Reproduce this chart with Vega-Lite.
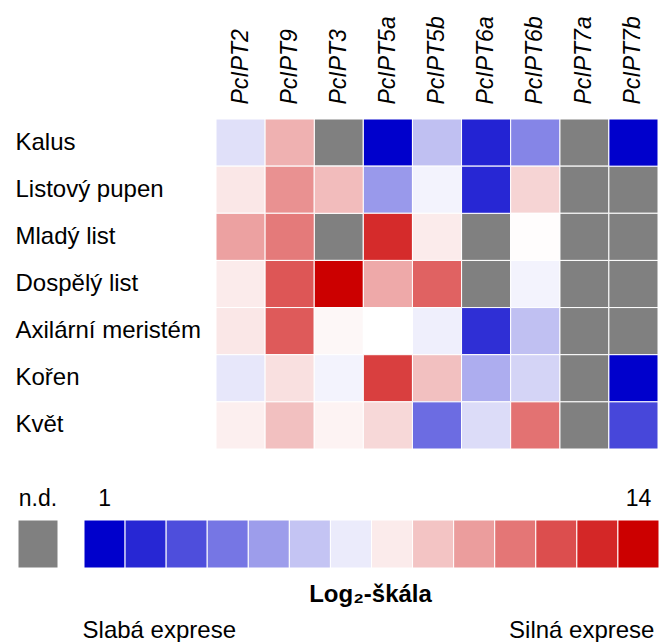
{
  "$schema": "https://vega.github.io/schema/vega-lite/v6.json",
  "background": "white",
  "padding": {"left": 15, "top": 15, "right": 0, "bottom": 0},
  "config": {
    "font": "Liberation Sans",
    "view": {"stroke": null},
    "axis": {"tickSize": 0, "ticks": false, "domain": false, "grid": false, "labelColor": "#000000", "titleColor": "#000000", "labelFontSize": 23, "titleFontSize": 23}
  },
  "datasets": {
    "expression": [
      {"tissue": "Kalus", "gene": "PcIPT2", "value": 6.7},
      {"tissue": "Kalus", "gene": "PcIPT9", "value": 9.5},
      {"tissue": "Kalus", "gene": "PcIPT3", "value": null},
      {"tissue": "Kalus", "gene": "PcIPT5a", "value": 1},
      {"tissue": "Kalus", "gene": "PcIPT5b", "value": 5.9},
      {"tissue": "Kalus", "gene": "PcIPT6a", "value": 1.9},
      {"tissue": "Kalus", "gene": "PcIPT6b", "value": 4.4},
      {"tissue": "Kalus", "gene": "PcIPT7a", "value": null},
      {"tissue": "Kalus", "gene": "PcIPT7b", "value": 1},
      {"tissue": "Listový pupen", "gene": "PcIPT2", "value": 8.1},
      {"tissue": "Listový pupen", "gene": "PcIPT9", "value": 10.3},
      {"tissue": "Listový pupen", "gene": "PcIPT3", "value": 9.2},
      {"tissue": "Listový pupen", "gene": "PcIPT5a", "value": 4.9},
      {"tissue": "Listový pupen", "gene": "PcIPT5b", "value": 7.2},
      {"tissue": "Listový pupen", "gene": "PcIPT6a", "value": 2.0},
      {"tissue": "Listový pupen", "gene": "PcIPT6b", "value": 8.6},
      {"tissue": "Listový pupen", "gene": "PcIPT7a", "value": null},
      {"tissue": "Listový pupen", "gene": "PcIPT7b", "value": null},
      {"tissue": "Mladý list", "gene": "PcIPT2", "value": 9.9},
      {"tissue": "Mladý list", "gene": "PcIPT9", "value": 10.9},
      {"tissue": "Mladý list", "gene": "PcIPT3", "value": null},
      {"tissue": "Mladý list", "gene": "PcIPT5a", "value": 12.9},
      {"tissue": "Mladý list", "gene": "PcIPT5b", "value": 8.0},
      {"tissue": "Mladý list", "gene": "PcIPT6a", "value": null},
      {"tissue": "Mladý list", "gene": "PcIPT6b", "value": 7.55},
      {"tissue": "Mladý list", "gene": "PcIPT7a", "value": null},
      {"tissue": "Mladý list", "gene": "PcIPT7b", "value": null},
      {"tissue": "Dospělý list", "gene": "PcIPT2", "value": 8.0},
      {"tissue": "Dospělý list", "gene": "PcIPT9", "value": 11.8},
      {"tissue": "Dospělý list", "gene": "PcIPT3", "value": 14},
      {"tissue": "Dospělý list", "gene": "PcIPT5a", "value": 9.7},
      {"tissue": "Dospělý list", "gene": "PcIPT5b", "value": 11.5},
      {"tissue": "Dospělý list", "gene": "PcIPT6a", "value": null},
      {"tissue": "Dospělý list", "gene": "PcIPT6b", "value": 7.2},
      {"tissue": "Dospělý list", "gene": "PcIPT7a", "value": null},
      {"tissue": "Dospělý list", "gene": "PcIPT7b", "value": null},
      {"tissue": "Axilární meristém", "gene": "PcIPT2", "value": 8.1},
      {"tissue": "Axilární meristém", "gene": "PcIPT9", "value": 11.7},
      {"tissue": "Axilární meristém", "gene": "PcIPT3", "value": 7.7},
      {"tissue": "Axilární meristém", "gene": "PcIPT5a", "value": 7.5},
      {"tissue": "Axilární meristém", "gene": "PcIPT5b", "value": 7.1},
      {"tissue": "Axilární meristém", "gene": "PcIPT6a", "value": 2.2},
      {"tissue": "Axilární meristém", "gene": "PcIPT6b", "value": 5.9},
      {"tissue": "Axilární meristém", "gene": "PcIPT7a", "value": null},
      {"tissue": "Axilární meristém", "gene": "PcIPT7b", "value": null},
      {"tissue": "Kořen", "gene": "PcIPT2", "value": 6.9},
      {"tissue": "Kořen", "gene": "PcIPT9", "value": 8.3},
      {"tissue": "Kořen", "gene": "PcIPT3", "value": 7.2},
      {"tissue": "Kořen", "gene": "PcIPT5a", "value": 12.4},
      {"tissue": "Kořen", "gene": "PcIPT5b", "value": 9.1},
      {"tissue": "Kořen", "gene": "PcIPT6a", "value": 5.4},
      {"tissue": "Kořen", "gene": "PcIPT6b", "value": 6.4},
      {"tissue": "Kořen", "gene": "PcIPT7a", "value": null},
      {"tissue": "Kořen", "gene": "PcIPT7b", "value": 1},
      {"tissue": "Květ", "gene": "PcIPT2", "value": 7.9},
      {"tissue": "Květ", "gene": "PcIPT9", "value": 9.1},
      {"tissue": "Květ", "gene": "PcIPT3", "value": 7.8},
      {"tissue": "Květ", "gene": "PcIPT5a", "value": 8.5},
      {"tissue": "Květ", "gene": "PcIPT5b", "value": 3.75},
      {"tissue": "Květ", "gene": "PcIPT6a", "value": 6.6},
      {"tissue": "Květ", "gene": "PcIPT6b", "value": 11.1},
      {"tissue": "Květ", "gene": "PcIPT7a", "value": null},
      {"tissue": "Květ", "gene": "PcIPT7b", "value": 2.8}
    ],
    "levels": [
      {"level": 1}, {"level": 2}, {"level": 3}, {"level": 4}, {"level": 5}, {"level": 6}, {"level": 7},
      {"level": 8}, {"level": 9}, {"level": 10}, {"level": 11}, {"level": 12}, {"level": 13}, {"level": 14}
    ],
    "missing": [{"label": "n.d."}]
  },
  "align": "none",
  "spacing": 37,
  "vconcat": [
    {
      "spacing": 0,
      "hconcat": [
        {
          "width": 200,
          "height": 330,
          "data": {"name": "expression"},
          "mark": {"type": "rect", "opacity": 0},
          "encoding": {
            "y": {
              "field": "tissue", "type": "nominal",
              "sort": ["Kalus", "Listový pupen", "Mladý list", "Dospělý list", "Axilární meristém", "Kořen", "Květ"],
              "scale": {"paddingInner": 0, "paddingOuter": 0},
              "axis": {"title": null, "labelAlign": "left", "labelPadding": 0, "labelLimit": 260, "labelFontSize": 24}
            }
          }
        },
        {
          "width": 442,
          "height": 330,
          "data": {"name": "expression"},
          "encoding": {
            "x": {
              "field": "gene", "type": "nominal",
              "sort": ["PcIPT2", "PcIPT9", "PcIPT3", "PcIPT5a", "PcIPT5b", "PcIPT6a", "PcIPT6b", "PcIPT7a", "PcIPT7b"],
              "scale": {"paddingInner": 0, "paddingOuter": 0},
              "axis": {"orient": "top", "title": null, "labelAngle": -90, "labelAlign": "left", "labelBaseline": "middle", "labelFontStyle": "italic", "labelPadding": 15}
            },
            "y": {
              "field": "tissue", "type": "nominal",
              "sort": ["Kalus", "Listový pupen", "Mladý list", "Dospělý list", "Axilární meristém", "Kořen", "Květ"],
              "scale": {"paddingInner": 0, "paddingOuter": 0},
              "axis": null
            }
          },
          "layer": [
            {"mark": {"type": "rect", "color": "#808080", "stroke": "#ffffff", "strokeWidth": 1}},
            {
              "transform": [{"filter": "datum.value != null"}],
              "mark": {"type": "rect", "stroke": "#ffffff", "strokeWidth": 1},
              "encoding": {
                "color": {
                  "field": "value", "type": "quantitative",
                  "scale": {"domain": [1, 7.5, 14], "range": ["#0000cc", "#ffffff", "#cc0000"], "interpolate": "rgb"},
                  "legend": null
                }
              }
            }
          ]
        }
      ]
    },
    {
      "align": "none",
      "spacing": 13,
      "vconcat": [
        {
          "spacing": 24,
          "hconcat": [
            {
              "width": 43,
              "height": 48,
              "data": {"name": "missing"},
              "mark": {"type": "rect", "color": "#808080", "stroke": "#ffffff", "strokeWidth": 1},
              "encoding": {
                "x": {
                  "field": "label", "type": "nominal",
                  "scale": {"paddingInner": 0, "paddingOuter": 0.0375, "align": 1},
                  "axis": {"orient": "top", "title": null, "labelAngle": 0, "labelPadding": 15, "labelBaseline": "alphabetic"}
                }
              }
            },
            {
              "width": 575,
              "height": 48,
              "data": {"name": "levels"},
              "mark": {"type": "rect", "stroke": "#ffffff", "strokeWidth": 1},
              "encoding": {
                "x": {
                  "field": "level", "type": "ordinal",
                  "scale": {"paddingInner": 0, "paddingOuter": 0},
                  "axis": {"orient": "top", "title": null, "values": [1, 14], "labelAngle": 0, "labelPadding": 15, "labelBaseline": "alphabetic"}
                },
                "color": {
                  "field": "level", "type": "quantitative",
                  "scale": {"domain": [1, 7.5, 14], "range": ["#0000cc", "#ffffff", "#cc0000"], "interpolate": "rgb"},
                  "legend": null
                }
              }
            }
          ]
        },
        {
          "width": 642,
          "height": 1,
          "data": {"name": "levels"},
          "mark": {"type": "rect", "opacity": 0},
          "encoding": {
            "x": {
              "field": "level", "type": "ordinal",
              "scale": {"paddingInner": 0, "paddingOuter": 0.8157, "align": 1},
              "axis": {
                "orient": "top",
                "values": [1, 14],
                "labelAngle": 0,
                "labelFontSize": 24,
                "labelExpr": "datum.value == 1 ? 'Slabá exprese' : 'Silná exprese'",
                "labelAlign": {"condition": {"test": "datum.value == 1", "value": "left"}, "value": "right"},
                "labelOffset": {"condition": {"test": "datum.value == 1", "value": -20}, "value": 18},
                "labelBaseline": "alphabetic",
                "labelPadding": 4,
                "title": "Log₂-škála",
                "titleFontSize": 24,
                "titleFontWeight": "bold",
                "titleAlign": "center",
                "titleBaseline": "alphabetic",
                "titleX": 355,
                "titleY": -40
              }
            }
          }
        }
      ]
    }
  ]
}
